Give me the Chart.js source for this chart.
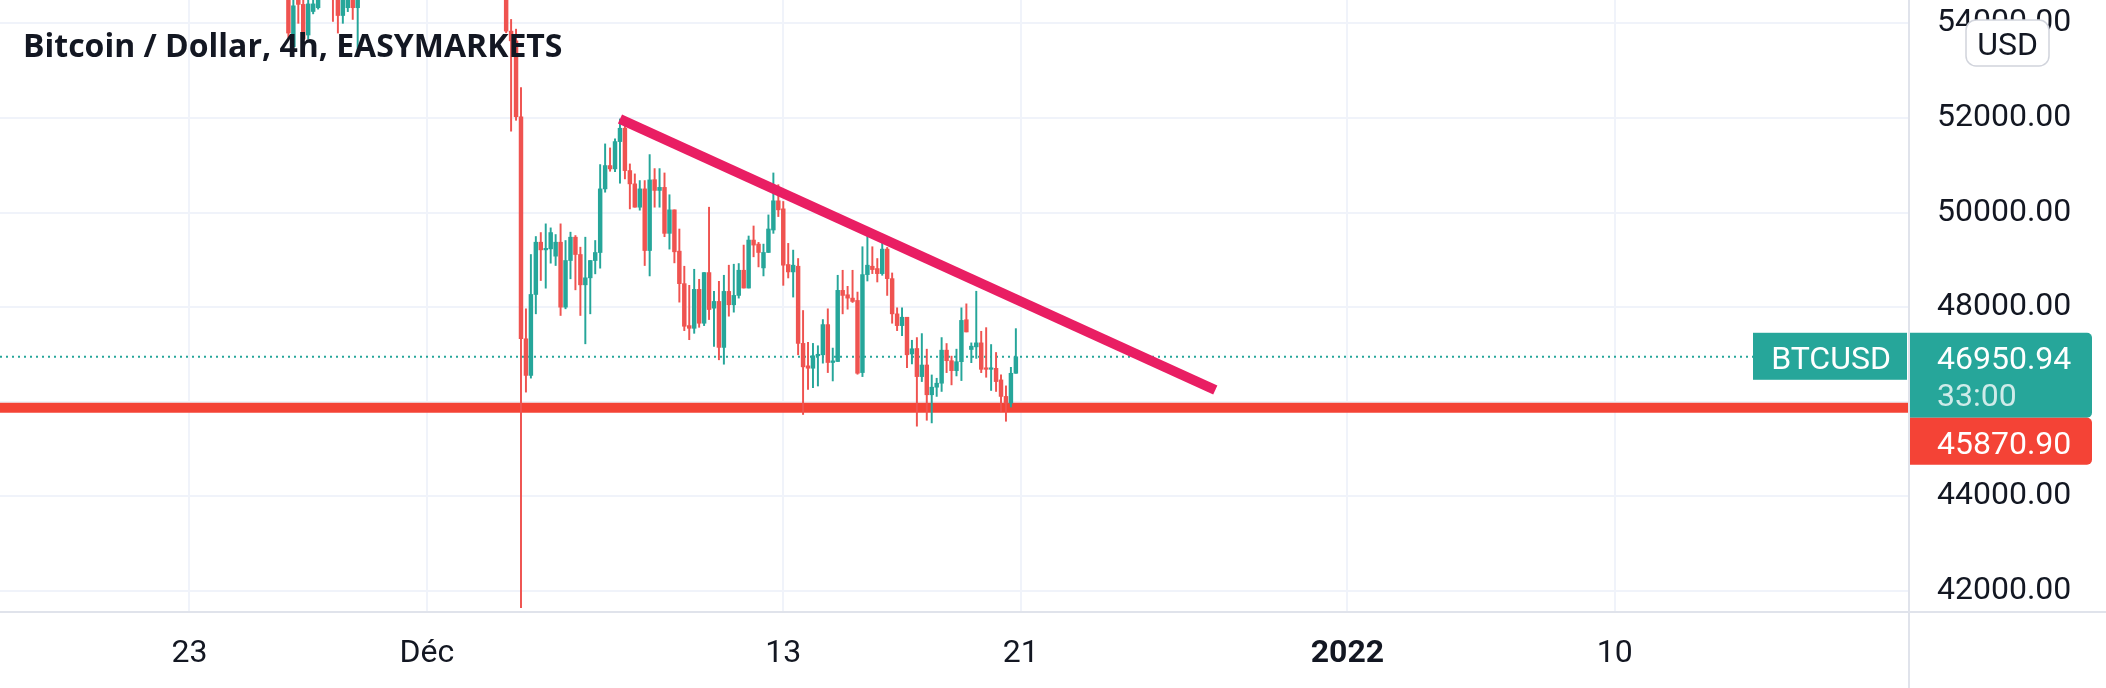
<!DOCTYPE html>
<html>
<head>
<meta charset="utf-8">
<title>Bitcoin / Dollar, 4h, EASYMARKETS</title>
<script src="https://cdn.jsdelivr.net/npm/chart.js@4.4.1/dist/chart.umd.min.js"></script>
<style>
  html, body { margin: 0; padding: 0; background: #fff; }
  canvas { display: block; }
</style>
</head>
<body>
<canvas id="chart" width="2106" height="688"></canvas>
<script>
// time axis: days from 1 Dec 2021 00:00, one candle every 4 hours
const firstCandleDay = -14 / 3;   // 26 Nov 08:00
const candleStep = 1 / 6;

// null = candle entirely above the visible price range
const opens = [
  55200, 53506, 54800, 54400, 53753, 54250, 54330, null, null, 55000,
  54900, 54165, 54330, 54800, 54330, null, null, null, null, null,
  null, null, null, null, null, null, null, null, null, null,
  null, null, null, null, null, null, null, null, null, null,
  null, null, null, null, 54800, 53835, 53630, 52025, 47331, 46557,
  48268, 49373, 49211, 49232, 49078, 49373, 48000, 48986, 49479, 49113,
  48472, 48620, 48986, 49155, 50500, 50993, 50923, 51500, 51782, 50887,
  50606, 50113, 50500, 49197, 50695, 50468, 50532, 49560, 50057, 49184,
  48497, 47610, 47553, 48376, 47660, 48731, 47979, 48121, 47149, 48333,
  48050, 48248, 48780, 48404, 49418, 49333, 48830, 49156, 49631, 50248,
  50078, 48901, 48745, 48865, 47234, 46759, 46709, 46972, 46993, 47631,
  46830, 46851, 48355, 48262, 48191, 48142, 46617, 48688, 48865, 48816,
  48709, 49227, 48603, 47858, 47610, 47787, 47010, 47126, 46532, 46777,
  46148, 46308, 46392, 47091, 46868, 46658, 46847, 47734, 47105, 47161,
  47245, 46707, 46686, 46707, 46462, 46113, 45973, 46602
];
const highs = [
  55600, 54800, 55000, 54600, 54600, 54700, 55000, null, null, 55200,
  55100, 55000, 54900, 55000, 55000, null, null, null, null, null,
  null, null, null, null, null, null, null, null, null, null,
  null, null, null, null, null, null, null, null, null, null,
  null, null, null, null, 55000, 54082, 53877, 52642, 47965, 49113,
  49493, 49577, 49761, 49676, 49535, 49761, 49409, 49585, 49514, 49268,
  49479, 48986, 49409, 51014, 51451, 51366, 51556, 51979, 51923, 51028,
  50817, 50676, 50676, 51225, 50929, 50929, 50837, 50376, 50057, 49652,
  48865, 48461, 48801, 48589, 48731, 50113, 48333, 48546, 48674, 48887,
  48908, 48922, 49312, 49504, 49716, 49369, 49333, 49950, 50837, 50589,
  50234, 49348, 49206, 49028, 47929, 47255, 47234, 47184, 47738, 47965,
  47135, 48674, 48780, 48440, 48780, 48319, 49277, 49504, 49277, 49028,
  49454, 49262, 48723, 47986, 47986, 47787, 47300, 47357, 47441, 47112,
  46567, 46497, 47357, 47231, 46965, 47112, 47986, 48070, 47245, 48336,
  47490, 47567, 47210, 47042, 46567, 46336, 46728, 47546
];
const lows = [
  53700, 53450, 54000, 53600, 53671, 54200, 54300, null, null, 54040,
  53794, 54000, 54247, 54082, 53424, null, null, null, null, null,
  null, null, null, null, null, null, null, null, null, null,
  null, null, null, null, null, null, null, null, null, null,
  null, null, null, null, 53800, 51720, 51950, 41650, 46204, 46500,
  47859, 48563, 48401, 48930, 48880, 47824, 47965, 48599, 48366, 47824,
  47225, 47859, 48704, 48824, 50430, 50873, 50866, 50620, 50711, 50077,
  50113, 50050, 48880, 48660, 50113, 50113, 49489, 49227, 48936, 48106,
  47504, 47312, 47447, 47574, 47610, 47738, 47170, 46887, 46794, 47809,
  47894, 48191, 48404, 48404, 49064, 48851, 48660, 49156, 49560, 49915,
  48461, 48617, 48213, 46993, 45731, 46262, 46298, 46333, 46816, 46617,
  46440, 46851, 47858, 47957, 48099, 46582, 46532, 48553, 48709, 48532,
  48674, 48248, 47660, 47504, 47397, 46723, 46800, 45484, 46427, 45609,
  45553, 46113, 46218, 46616, 46357, 46546, 46448, 47476, 46826, 46917,
  46616, 46518, 46239, 46218, 45798, 45588, 45889, 46602
];
const closes = [
  53794, 54370, 54400, 53671, 54410, 54410, 54800, null, null, 54600,
  54165, 54700, 54700, 54330, 54800, null, null, null, null, null,
  null, null, null, null, null, null, null, null, null, null,
  null, null, null, null, null, null, null, null, null, null,
  null, null, null, null, 53835, 53630, 52025, 47333, 46557, 48268,
  49373, 49211, 49232, 49577, 49373, 48000, 48986, 49479, 49113, 48472,
  48620, 48986, 49155, 50500, 50993, 50923, 51500, 51782, 50887, 50606,
  50113, 50500, 49197, 50690, 50468, 50532, 49560, 50057, 49170, 48497,
  47596, 47553, 48376, 47660, 48731, 47950, 48121, 47149, 48333, 48050,
  48248, 48780, 48404, 49418, 49312, 49156, 49156, 49652, 50248, 50057,
  48887, 48745, 48887, 47234, 46738, 46709, 46972, 46993, 47631, 46830,
  46865, 48355, 48248, 48191, 48121, 46603, 48688, 48887, 48794, 48709,
  49227, 48603, 47858, 47610, 47787, 46993, 47120, 46532, 46777, 46148,
  46308, 46392, 47091, 46868, 46658, 46847, 47720, 47476, 47175, 47245,
  46686, 46686, 46707, 46427, 46113, 45973, 46602, 46950.94
];

const xTickDays = [-8, 0, 12, 20, 31, 40];
const xTickLabels = ['23', 'Déc', '13', '21', '2022', '10'];
const yTicks = [42000, 44000, 46000, 48000, 50000, 52000, 54000];
const xRange = [-14.38, 49.88];
const yRange = [41577, 54493];

const lastPrice = 46950.94;
const countdown = '33:00';
const supportLevel = 45870.90;
const trendDays = [6.5, 26.55];
const trendPrices = [51979, 46250];

const UP = '#26a69a';
const DOWN = '#ef5350';
const TEXT = '#131722';

const wicks = [], bodies = [], colors = [];
opens.forEach((o, i) => {
  if (o === null) return;
  const x = firstCandleDay + i * candleStep;
  wicks.push({ x: x, y: [lows[i], highs[i]] });
  bodies.push({ x: x, y: [o, closes[i]] });
  colors.push(closes[i] >= o ? UP : DOWN);
});

// title, axis separators and the price tags on the right
const overlay = {
  id: 'overlay',
  afterDraw(chart) {
    const { ctx, chartArea: a, scales: { y } } = chart;
    const W = chart.width, H = chart.height;
    ctx.save();

    ctx.strokeStyle = '#e0e3eb';
    ctx.lineWidth = 2;
    ctx.beginPath();
    ctx.moveTo(a.right + 1, 0); ctx.lineTo(a.right + 1, H);
    ctx.moveTo(0, a.bottom + 1); ctx.lineTo(W, a.bottom + 1);
    ctx.stroke();

    ctx.fillStyle = TEXT;
    ctx.font = 'bold 32px "Open Sans"';
    ctx.textAlign = 'left';
    ctx.textBaseline = 'alphabetic';
    ctx.fillText('Bitcoin / Dollar, 4h, EASYMARKETS', 23, 57);

    const yp = y.getPixelForValue(lastPrice);
    ctx.font = '32px Roboto';

    // symbol tag
    ctx.fillStyle = UP;
    ctx.fillRect(a.right - 155, yp - 24, 154, 47);
    ctx.fillStyle = '#fff';
    ctx.textAlign = 'center';
    ctx.fillText('BTCUSD', a.right - 77, yp + 12);

    // last price + countdown
    ctx.fillStyle = UP;
    ctx.beginPath();
    ctx.roundRect(a.right + 2, yp - 24, 182, 85, [0, 5, 5, 0]);
    ctx.fill();
    ctx.textAlign = 'left';
    ctx.fillStyle = '#fff';
    ctx.fillText(lastPrice.toFixed(2), a.right + 29, yp + 12);
    ctx.fillStyle = 'rgba(255,255,255,0.78)';
    ctx.fillText(countdown, a.right + 29, yp + 49);

    // horizontal line tag
    ctx.fillStyle = '#f44336';
    ctx.beginPath();
    ctx.roundRect(a.right + 2, yp + 61, 182, 47, [0, 5, 5, 0]);
    ctx.fill();
    ctx.fillStyle = '#fff';
    ctx.fillText(supportLevel.toFixed(2), a.right + 29, yp + 97);

    // currency button
    ctx.fillStyle = '#fff';
    ctx.strokeStyle = '#d1d4dc';
    ctx.lineWidth = 1.5;
    ctx.beginPath();
    ctx.roundRect(a.right + 58, 20, 83, 46, 10);
    ctx.fill();
    ctx.stroke();
    ctx.fillStyle = TEXT;
    ctx.textAlign = 'center';
    ctx.fillText('USD', a.right + 99.5, 55);

    ctx.restore();
  }
};

function draw() {
  new Chart(document.getElementById('chart'), {
    type: 'bar',
    data: {
      datasets: [
        {
          type: 'line', label: 'Trend',
          data: trendDays.map((x, i) => ({ x: x, y: trendPrices[i] })),
          borderColor: '#e91e63', borderWidth: 10, borderCapStyle: 'butt',
          pointRadius: 0, fill: false, order: 0
        },
        {
          label: 'Body', data: bodies, backgroundColor: colors,
          barThickness: 3.8, minBarLength: 1.5, grouped: false, order: 1, clip: 0
        },
        {
          label: 'Wick', data: wicks, backgroundColor: colors,
          barThickness: 1.3, grouped: false, order: 2, clip: 0
        },
        {
          type: 'line', label: 'Last',
          data: xRange.map(x => ({ x: x, y: lastPrice })),
          borderColor: UP, borderWidth: 2, borderDash: [2, 4],
          pointRadius: 0, fill: false, order: 3
        },
        {
          type: 'line', label: 'Support',
          data: xRange.map(x => ({ x: x, y: supportLevel })),
          borderColor: '#f44336', borderWidth: 10,
          pointRadius: 0, fill: false, order: 4
        }
      ]
    },
    options: {
      responsive: false,
      animation: false,
      devicePixelRatio: 1,
      events: [],
      layout: { padding: 0 },
      plugins: {
        legend: { display: false },
        tooltip: { enabled: false }
      },
      scales: {
        x: {
          type: 'linear',
          min: xRange[0],
          max: xRange[1],
          offset: false,
          afterBuildTicks: s => { s.ticks = xTickDays.map(v => ({ value: v })); },
          afterFit: s => { s.height = 77; s.paddingLeft = 0; s.paddingRight = 0; },
          grid: { color: '#f0f3fa', lineWidth: 2, drawTicks: false, offset: false },
          border: { display: false },
          ticks: {
            autoSkip: false,
            maxRotation: 0,
            padding: 24,
            color: TEXT,
            font: c => ({
              family: 'Roboto',
              size: 32,
              weight: (c.tick && xTickLabels[xTickDays.indexOf(c.tick.value)] === '2022') ? 'bold' : 'normal'
            }),
            callback: v => xTickLabels[xTickDays.indexOf(v)]
          }
        },
        y: {
          position: 'right',
          min: yRange[0],
          max: yRange[1],
          afterBuildTicks: s => { s.ticks = yTicks.map(v => ({ value: v })); },
          afterFit: s => { s.width = 198; s.paddingTop = 0; s.paddingBottom = 0; },
          grid: { color: '#f0f3fa', lineWidth: 2, drawTicks: false },
          border: { display: false },
          ticks: {
            padding: 29,
            color: TEXT,
            font: { family: 'Roboto', size: 32 },
            callback: v => v.toFixed(2)
          }
        }
      }
    },
    plugins: [overlay]
  });
}

Promise.all([
  document.fonts.load('32px Roboto'),
  document.fonts.load('bold 32px Roboto'),
  document.fonts.load('bold 32px "Open Sans"')
]).then(draw, draw);
</script>
</body>
</html>
